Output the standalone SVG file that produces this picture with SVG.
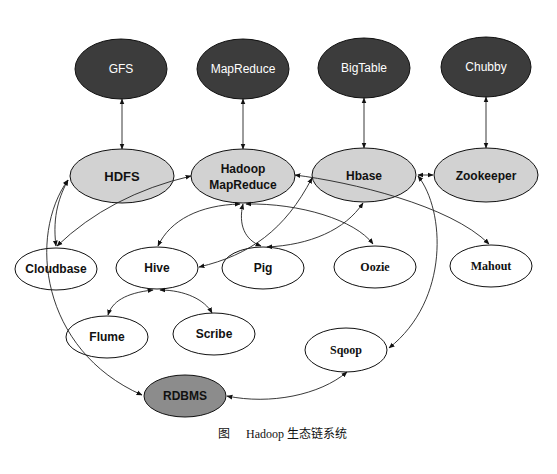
<svg xmlns="http://www.w3.org/2000/svg" width="557" height="474" viewBox="0 0 557 474">
<style>
.dark{fill:#3c3c3c;stroke:#111;stroke-width:1}
.light{fill:#d2d2d2;stroke:#111;stroke-width:1}
.white{fill:#fff;stroke:#111;stroke-width:1}
.mid{fill:#8c8c8c;stroke:#111;stroke-width:1}
.tw{font-family:"Liberation Sans",Arial,sans-serif;font-size:12px;fill:#fff;text-anchor:middle}
.tb{font-family:"Liberation Sans",Arial,sans-serif;font-size:12px;font-weight:bold;fill:#111;text-anchor:middle}
.ts{font-family:"Liberation Serif","Times New Roman",serif;font-size:12px;font-weight:bold;fill:#111;text-anchor:middle}
.cap{font-family:"Liberation Serif","Noto Sans CJK SC",serif;font-size:12px;fill:#111}
.c path{fill:none;stroke:#222;stroke-width:0.9;marker-start:url(#a);marker-end:url(#a)}
</style>
<defs>
<marker id="a" viewBox="0 0 10 10" refX="9" refY="5" markerWidth="6" markerHeight="6" orient="auto-start-reverse" markerUnits="userSpaceOnUse">
<path d="M0,1 L10,5 L0,9 z" fill="#111"/>
</marker>
</defs>
<rect width="557" height="474" fill="#fff"/>
<g id="GFS"><ellipse class="dark" cx="121" cy="69" rx="46" ry="30"/><text class="tw" x="121" y="73">GFS</text></g>
<g id="MapReduce"><ellipse class="dark" cx="243" cy="69" rx="46" ry="30"/><text class="tw" x="243" y="73">MapReduce</text></g>
<g id="BigTable"><ellipse class="dark" cx="364" cy="68" rx="46" ry="30"/><text class="tw" x="364" y="72">BigTable</text></g>
<g id="Chubby"><ellipse class="dark" cx="486" cy="67" rx="45" ry="30"/><text class="tw" x="486" y="71">Chubby</text></g>
<g id="HDFS"><ellipse class="light" cx="122" cy="176" rx="52" ry="27"/><text class="tb" x="122" y="181" style="font-size:13px">HDFS</text></g>
<g id="HadoopMapReduce"><ellipse class="light" cx="243" cy="176" rx="52" ry="27"/><text class="tb" x="243" y="173">Hadoop</text><text class="tb" x="243" y="189">MapReduce</text></g>
<g id="Hbase"><ellipse class="light" cx="364" cy="175" rx="52" ry="27"/><text class="tb" x="364" y="180">Hbase</text></g>
<g id="Zookeeper"><ellipse class="light" cx="486" cy="175" rx="52" ry="27"/><text class="tb" x="486" y="180">Zookeeper</text></g>
<g id="Cloudbase"><ellipse class="white" cx="56" cy="269" rx="41" ry="21"/><text class="tb" x="56" y="273">Cloudbase</text></g>
<g id="Hive"><ellipse class="white" cx="157" cy="268" rx="41" ry="21"/><text class="tb" x="157" y="272">Hive</text></g>
<g id="Pig"><ellipse class="white" cx="263" cy="268" rx="41" ry="21"/><text class="tb" x="263" y="272">Pig</text></g>
<g id="Oozie"><ellipse class="white" cx="375" cy="267" rx="41" ry="21"/><text class="ts" x="375" y="271">Oozie</text></g>
<g id="Mahout"><ellipse class="white" cx="491" cy="266" rx="41" ry="21"/><text class="ts" x="491" y="270">Mahout</text></g>
<g id="Flume"><ellipse class="white" cx="107" cy="337" rx="41" ry="21"/><text class="tb" x="107" y="341">Flume</text></g>
<g id="Scribe"><ellipse class="white" cx="214" cy="334" rx="41" ry="21"/><text class="tb" x="214" y="338">Scribe</text></g>
<g id="Sqoop"><ellipse class="white" cx="346" cy="350" rx="41" ry="22"/><text class="ts" x="346" y="354">Sqoop</text></g>
<g id="RDBMS"><ellipse class="mid" cx="185" cy="396" rx="41" ry="21"/><text class="tb" x="185" y="400">RDBMS</text></g>
<g class="c" id="connectors">
<path d="M122,99 L122,149"/>
<path d="M243,99 L243,149"/>
<path d="M364,98 L364,148"/>
<path d="M486,97 L486,148"/>
<path d="M418,175 L433,175"/>
<path d="M68,180 C60,195 52,215 56,246"/>
<path d="M68,180 C28,235 40,350 142,395"/>
<path d="M57,246 Q110,195 191,176"/>
<path d="M240,204 C200,205 170,220 158,246"/>
<path d="M243,204 C238,225 245,240 261,246"/>
<path d="M246,204 C300,203 355,220 373,244"/>
<path d="M267,247 C310,245 345,230 363,203"/>
<path d="M312,178 C285,230 250,255 199,267"/>
<path d="M295,175 C350,182 450,205 489,244"/>
<path d="M418,176 C445,210 450,300 389,348"/>
<path d="M153,290 C125,293 112,302 108,315"/>
<path d="M160,290 C185,290 205,300 212,313"/>
<path d="M227,396 C270,405 320,395 347,372"/>
</g>
<text class="cap" x="218" y="438">图</text>
<text class="cap" x="246" y="438">Hadoop 生态链系统</text>
</svg>
